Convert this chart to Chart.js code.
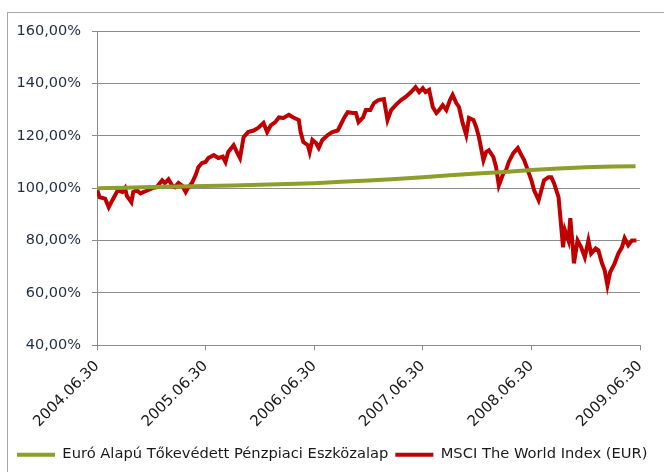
<!DOCTYPE html>
<html>
<head>
<meta charset="utf-8">
<script src="https://cdn.jsdelivr.net/npm/chart.js@4/dist/chart.umd.min.js"></script>
<style>
  html, body { margin: 0; padding: 0; background: #fff; }
  #wrap { position: relative; width: 664px; height: 472px; overflow: hidden; }
  #frame { position: absolute; left: 7px; top: 12px; width: 680px; height: 480px; border: 1px solid #a6a6a6; }
  canvas { position: absolute; left: 0; top: 0; }
</style>
</head>
<body>
<div id="wrap">
  <div id="frame"></div>
  <canvas id="chart" width="664" height="472"></canvas>
</div>
<script>
// x = months since 2004.06.30
const xTickLabels = ["2004.06.30", "2005.06.30", "2006.06.30", "2007.06.30", "2008.06.30", "2009.06.30"];

const fundName = "Euró Alapú Tőkevédett Pénzpiaci Eszközalap";
const fundMonths = [0, 3, 6, 9, 12, 15, 18, 21, 24, 27, 30, 33, 36, 39, 42, 45, 48, 51, 54, 57, 59.5];
const fundValues = [100.0, 100.2, 100.4, 100.6, 100.8, 101.0, 101.3, 101.6, 101.9, 102.4, 102.9, 103.5,
  104.2, 104.9, 105.6, 106.2, 106.9, 107.5, 108.0, 108.3, 108.4];

const msciName = "MSCI The World Index (EUR)";
const msciMonths = [0, 0.3, 0.9, 1.3, 1.7, 2.0, 2.3, 2.8, 3.1, 3.3, 3.8, 4.0, 4.4, 4.8, 5.1, 5.5, 6.1, 6.6,
  7.2, 7.5, 7.9, 8.3, 8.6, 9.0, 9.4, 9.8, 10.1, 10.5, 10.9, 11.2, 11.6, 12.0, 12.3, 12.9, 13.4, 13.9,
  14.2, 14.5, 15.1, 15.5, 15.8, 16.2, 16.7, 17.3, 17.8, 18.4, 18.8, 19.2, 19.7, 20.1, 20.6, 21.2, 21.7,
  22.3, 22.5, 22.8, 23.3, 23.5, 23.8, 24.2, 24.5, 24.9, 25.5, 26.0, 26.6, 26.9, 27.3, 27.7, 28.3, 28.6,
  28.9, 29.4, 29.7, 30.2, 30.6, 31.1, 31.7, 32.1, 32.5, 33.0, 33.6, 34.1, 34.7, 35.2, 35.6, 36.0, 36.3,
  36.7, 37.1, 37.5, 37.8, 38.2, 38.6, 39.0, 39.3, 39.7, 40.0, 40.4, 40.8, 41.1, 41.6, 41.9, 42.2, 42.7,
  43.0, 43.3, 43.8, 44.1, 44.4, 44.9, 45.2, 45.5, 46.0, 46.5, 46.9, 47.2, 47.6, 48.0, 48.3, 48.8, 49.1,
  49.4, 49.9, 50.2, 50.5, 51.0, 51.2, 51.5, 51.7, 52.1, 52.3, 52.6, 52.7, 53.1, 53.5, 53.9, 54.3, 54.6,
  55.1, 55.4, 55.8, 56.1, 56.4, 56.7, 57.2, 57.6, 58.0, 58.3, 58.7, 59.1, 59.6];
const msciValues = [99.5, 96.5, 96, 92.7, 95.4, 97.3, 99.2, 98.5, 100, 97, 94.6, 98.5, 99.2, 98, 98.5, 99,
  100, 100.4, 103, 101.9, 103.4, 101, 100.4, 102, 101, 98.5, 100.4, 102, 105, 108, 109.6, 110, 111.5,
  112.6, 111.5, 112, 110, 113.8, 116.4, 113.5, 111.5, 119.5, 121.4, 122, 123, 124.9, 121.4, 124, 125.2,
  127, 126.8, 128, 127, 126, 121.4, 117.6, 116.4, 113.8, 118.4, 117.2, 115.3, 118.4, 120.3, 121.4, 122,
  124, 126.8, 129, 128.7, 128.7, 125.2, 127, 129.8, 129.8, 132.5, 133.6, 134, 126, 129.8, 131.7, 133.6,
  134.8, 136.7, 138.6, 136.7, 138.2, 136.7, 137.5, 131, 128.7, 129.8, 131.7, 129.8, 133.6, 135.6, 132.5,
  131, 124.9, 120.3, 126.8, 126, 123.3, 119.5, 110.7, 113.8, 114.5, 111.9, 108, 101, 105.7, 106.9, 110,
  113.4, 115.3, 112.6, 110.7, 106.9, 103, 99.2, 95.4, 99.2, 103, 104.2, 104.2, 101.9, 96.6, 88.9, 77.4,
  84, 80, 88.5, 76.3, 71.3, 80, 77.4, 73.6, 80, 75, 77, 76.3, 71.3, 68.6, 62.9, 67.9, 71.3, 75, 77.4,
  80.9, 78.2, 80, 80];

function toPoints(xs, ys) {
  return xs.map((x, i) => ({ x: x, y: ys[i] }));
}

const fontFamily = "'DejaVu Sans', sans-serif";
const gridColor = "#8c8c8c";

new Chart(document.getElementById("chart"), {
  type: "line",
  data: {
    datasets: [
      {
        label: fundName,
        data: toPoints(fundMonths, fundValues),
        borderColor: "#8e9e2a",
        backgroundColor: "#8e9e2a",
        borderWidth: 4,
        pointRadius: 0,
        tension: 0
      },
      {
        label: msciName,
        data: toPoints(msciMonths, msciValues),
        borderColor: "#c00000",
        backgroundColor: "#c00000",
        borderWidth: 4,
        pointRadius: 0,
        tension: 0
      }
    ]
  },
  options: {
    responsive: false,
    animation: false,
    layout: { padding: { left: 10, right: 0, top: 31, bottom: 0 } },
    plugins: {
      tooltip: { enabled: false },
      legend: {
        position: "bottom",
        align: "start",
        labels: {
          usePointStyle: true,
          pointStyle: "line",
          pointStyleWidth: 38,
          color: "#1a1a1a",
          padding: 7,
          font: { family: fontFamily, size: 14.7 }
        }
      }
    },
    scales: {
      x: {
        type: "linear",
        min: 0,
        max: 60,
        afterFit: (scale) => { scale.height = 95; },
        afterBuildTicks: (scale) => {
          scale.ticks = xTickLabels.map((t, i) => ({ value: i * 12 }));
        },
        ticks: {
          minRotation: 45,
          maxRotation: 45,
          padding: 7,
          color: "#1a1a1a",
          font: { family: fontFamily, size: 15 },
          callback: (value) => xTickLabels[Math.round(value / 12)]
        },
        grid: { drawOnChartArea: false, drawTicks: true, tickLength: 5, color: gridColor },
        border: { color: gridColor }
      },
      y: {
        min: 40,
        max: 160,
        afterFit: (scale) => { scale.width = 87; },
        ticks: {
          stepSize: 20,
          color: "#1f2d44",
          padding: 11,
          font: { family: fontFamily, size: 14.5 },
          callback: (value) => value.toFixed(2).replace(".", ",") + "%"
        },
        grid: { color: gridColor, tickLength: 5 },
        border: { color: gridColor }
      },
      // empty right axis: keeps the plot short of the right edge without narrowing the legend
      yRight: {
        position: "right",
        afterFit: (scale) => { scale.width = 24; },
        ticks: { display: false },
        grid: { display: false },
        border: { display: false }
      }
    }
  }
});
</script>
</body>
</html>
